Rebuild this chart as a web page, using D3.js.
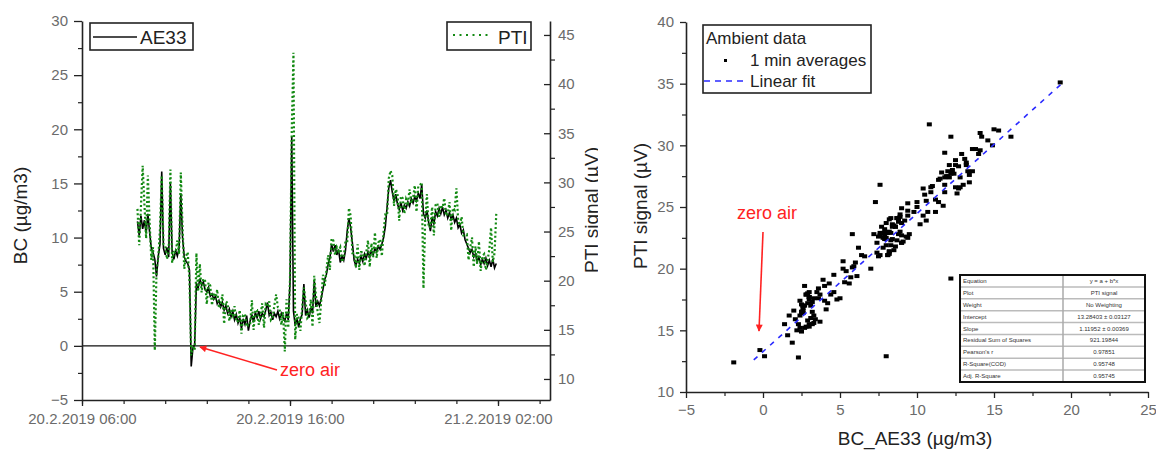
<!DOCTYPE html>
<html>
<head>
<meta charset="utf-8">
<title>AE33 vs PTI</title>
<script src="https://cdn.jsdelivr.net/npm/d3@7"></script>
<style>
  body { margin: 0; background: #fff; }
  text { font-family: "Liberation Sans", Arial, sans-serif; }
</style>
</head>
<body>
<svg width="1156" height="450" id="mainsvg"></svg>
<script>
// 5 minute samples, first one at 20.2.2019 08:40
const startTime = '2019-02-20 08:40';
const stepMinutes = 5;

// AE33 black carbon (ug/m3)
const bc = [
  11.5,10.2,12.0,10.8,11.6,10.4,12.2,10.5,9.0,8.6,
  8.0,6.4,8.3,9.4,16.1,9.0,8.4,9.1,8.2,15.0,
  8.6,8.0,8.8,8.3,9.0,14.1,10.0,8.2,7.8,7.6,
  7.0,-1.9,-0.2,0.1,5.8,5.3,6.2,5.6,5.9,5.2,
  5.0,5.4,4.6,4.8,4.3,4.6,3.9,4.2,3.6,4.0,
  3.3,3.7,3.0,3.4,2.7,3.2,2.4,2.9,2.1,2.6,
  1.6,2.5,2.0,2.8,1.4,2.3,2.9,2.2,3.1,2.6,
  3.2,2.5,3.0,2.7,3.3,4.0,2.8,3.1,2.4,3.0,
  2.7,3.2,2.5,3.0,2.6,2.3,3.0,2.4,5.8,19.3,
  3.2,1.9,2.6,1.7,2.5,2.9,5.7,2.8,3.3,2.6,
  3.5,3.0,6.0,3.6,4.1,3.7,4.4,5.2,6.1,6.6,
  7.5,8.1,9.4,8.7,9.3,8.4,8.9,7.7,8.3,7.9,
  8.8,10.6,11.8,10.9,9.5,7.9,7.4,8.0,7.6,8.3,
  7.8,8.5,8.1,8.7,8.2,8.8,8.4,9.0,8.7,9.2,
  8.9,9.4,10.0,11.0,12.8,14.6,15.3,14.2,13.4,14.0,
  13.1,12.6,13.2,12.5,13.0,12.7,13.3,12.9,13.6,13.2,
  13.8,13.4,14.1,13.6,14.9,12.2,11.8,12.5,11.4,10.6,
  11.9,11.2,12.4,12.0,12.7,12.2,12.8,12.1,12.5,11.8,
  12.3,11.7,12.1,11.4,11.8,10.9,11.2,10.4,10.7,9.8,
  9.4,9.0,8.6,8.9,8.2,8.5,7.8,8.2,7.5,8.0,
  7.6,8.1,7.4,7.9,7.3,8.0,7.2,7.6
];

// PTI signal (uV), same time stamps
const pti = [
  27.3,23.6,27.5,31.7,27.8,24.3,30.7,26.0,22.1,23.4,
  12.9,21.1,22.3,25.3,30.7,23.7,23.6,22.2,23.0,31.3,
  21.8,22.9,22.8,24.1,22.7,31.0,25.4,21.2,22.5,22.9,
  20.0,12.4,13.4,12.9,22.8,18.9,21.7,18.8,20.2,20.0,
  17.6,19.8,19.5,17.5,18.8,18.1,19.1,17.2,17.6,18.6,
  15.6,17.9,17.7,15.9,17.0,16.5,17.4,15.8,15.9,17.0,
  14.6,16.5,16.6,15.3,15.5,15.5,18.0,15.0,17.0,17.0,
  15.5,16.5,17.7,15.2,17.6,17.4,17.9,16.0,16.2,17.5,
  18.6,17.3,17.1,15.5,16.8,12.8,18.1,15.2,20.1,35.1,
  43.2,14.0,16.6,16.2,14.9,17.2,19.3,17.9,16.2,16.4,
  18.1,15.3,20.5,18.4,16.7,15.7,17.9,20.6,19.4,21.0,
  22.6,21.1,24.3,24.1,22.6,23.4,23.0,23.4,21.9,22.4,
  24.0,23.9,27.4,26.6,22.8,22.8,21.3,23.7,21.1,22.9,
  22.9,21.5,22.9,24.1,21.4,23.8,22.4,24.9,22.3,23.9,
  24.2,22.5,25.0,26.7,26.6,30.4,31.2,30.7,27.6,29.3,
  28.9,26.1,28.6,28.4,26.8,28.3,27.9,29.3,27.9,28.4,
  29.7,27.0,29.6,29.7,30.0,19.2,26.2,28.8,25.4,25.5,
  27.5,24.6,27.7,27.9,26.5,27.7,27.4,28.4,26.6,26.8,
  28.0,25.1,27.4,27.2,29.4,26.2,25.6,26.5,24.6,24.6,
  24.7,22.1,23.4,24.4,21.4,23.5,21.7,24.0,21.0,22.5,
  22.7,21.1,22.1,23.2,25.4,21.9,22.8,26.8
];

const timeTicks = ['2019-02-20 06:00', '2019-02-20 16:00', '2019-02-21 02:00'];
const bcTicks = [-5, 0, 5, 10, 15, 20, 25, 30];
const ptiTicks = [10, 15, 20, 25, 30, 35, 40, 45];
const scatterXTicks = [-5, 0, 5, 10, 15, 20, 25];
const scatterYTicks = [10, 15, 20, 25, 30, 35, 40];

// linear fit end points
const fitLine = [{x: -0.6, y: 12.6}, {x: 19.4, y: 35.0}];
const fitLabels = ['Equation', 'Plot', 'Weight', 'Intercept', 'Slope',
  'Residual Sum of Squares', "Pearson's r", 'R-Square(COD)', 'Adj. R-Square'];
const fitValues = ['y = a + b*x', 'PTI signal', 'No Weighting', '13.28403 \u00b1 0.03127',
  '1.11952 \u00b1 0.00369', '921.19844', '0.97851', '0.95748', '0.95745'];

const svg = d3.select('#mainsvg');
const parse = d3.timeParse('%Y-%m-%d %H:%M');
const t0 = parse(startTime);
const times = bc.map((d, i) => d3.timeMinute.offset(t0, i * stepMinutes));

const tickGrey = '#6b6b6b';
const axisCol = '#222';

function styleAxis(g, fs) {
  g.selectAll('.domain').attr('stroke', axisCol).attr('stroke-width', 1.6);
  g.selectAll('.tick line').attr('stroke', axisCol).attr('stroke-width', 1.3);
  g.selectAll('.tick text').attr('fill', tickGrey).attr('font-size', fs || 15)
    .attr('font-family', '"Liberation Sans", Arial, sans-serif');
}
function minor(g) {
  g.select('.domain').remove();
  g.selectAll('.tick line').attr('stroke', axisCol).attr('stroke-width', 1.2);
}

const defs = svg.append('defs');
defs.append('clipPath').attr('id', 'leftPanel')
  .append('rect').attr('x', 0).attr('y', 0).attr('width', 598).attr('height', 450);
defs.append('marker').attr('id', 'redHead')
  .attr('viewBox', '0 0 10 10').attr('refX', 9).attr('refY', 5)
  .attr('markerWidth', 10).attr('markerHeight', 7).attr('markerUnits', 'userSpaceOnUse')
  .attr('orient', 'auto')
  .append('path').attr('d', 'M0,0 L10,5 L0,10 Z').attr('fill', '#f22');

// ---------------- left panel: time series ----------------
const L = {left: 82, right: 550, top: 21, bottom: 400};
const xT = d3.scaleTime()
  .domain([parse('2019-02-20 06:00'), parse('2019-02-21 04:30')])
  .range([L.left, L.right]);
const yBC = d3.scaleLinear().domain([-5, 30]).range([L.bottom, L.top]);
const yPTI = d3.scaleLinear().domain([7.86, 46.42]).range([L.bottom, L.top]);

const left = svg.append('g').attr('clip-path', 'url(#leftPanel)');

defs.append('clipPath').attr('id', 'leftPlot')
  .append('rect').attr('x', L.left).attr('y', L.top)
  .attr('width', L.right - L.left).attr('height', L.bottom - L.top);

// zero line
left.append('line')
  .attr('x1', L.left).attr('x2', L.right)
  .attr('y1', yBC(0)).attr('y2', yBC(0))
  .attr('stroke', '#111').attr('stroke-width', 1.3);

const series = left.append('g').attr('clip-path', 'url(#leftPlot)');
series.append('path')
  .datum(bc)
  .attr('d', d3.line().x((d, i) => xT(times[i])).y(d => yBC(d)))
  .attr('fill', 'none').attr('stroke', '#000').attr('stroke-width', 1.6);
series.append('path')
  .datum(pti)
  .attr('d', d3.line().x((d, i) => xT(times[i])).y(d => yPTI(d)))
  .attr('fill', 'none').attr('stroke', '#138a13').attr('stroke-width', 2.2)
  .attr('stroke-dasharray', '2,2.4');

// axes
const xTicks = timeTicks.map(parse);
const xMinor = d3.timeHour.every(2).range(parse('2019-02-20 06:00'), parse('2019-02-21 04:31'));
left.append('g').attr('transform', `translate(0,${L.bottom})`)
  .call(d3.axisBottom(xT).tickValues(xMinor).tickSize(4).tickFormat(''))
  .call(minor);
left.append('g').attr('transform', `translate(0,${L.bottom})`)
  .call(d3.axisBottom(xT).tickValues(xTicks).tickSize(6).tickSizeOuter(0).tickPadding(7)
    .tickFormat(d3.timeFormat('%-d.%-m.%Y %H:%M')))
  .call(styleAxis);

left.append('g').attr('transform', `translate(${L.left},0)`)
  .call(d3.axisLeft(yBC).tickValues(d3.range(-2.5, 30, 5)).tickSize(4).tickFormat(''))
  .call(minor);
left.append('g').attr('transform', `translate(${L.left},0)`)
  .call(d3.axisLeft(yBC).tickValues(bcTicks).tickSize(8).tickSizeOuter(0).tickPadding(6))
  .call(styleAxis);

left.append('g').attr('transform', `translate(${L.right},0)`)
  .call(d3.axisRight(yPTI).tickValues(d3.range(12.5, 46, 5)).tickSize(5).tickFormat(''))
  .call(minor);
left.append('g').attr('transform', `translate(${L.right},0)`)
  .call(d3.axisRight(yPTI).tickValues(ptiTicks).tickSize(-6).tickSizeOuter(0).tickPadding(8))
  .call(styleAxis);

// axis titles
left.append('text').text('BC (\u00b5g/m3)')
  .attr('transform', `translate(27,${(L.top + L.bottom) / 2 + 5}) rotate(-90)`)
  .attr('text-anchor', 'middle').attr('font-size', 19).attr('fill', '#222');
left.append('text').text('PTI signal (\u00b5V)')
  .attr('transform', `translate(598,210) rotate(-90)`)
  .attr('text-anchor', 'middle').attr('font-size', 19).attr('fill', '#222');

// legends
const lg1 = left.append('g');
lg1.append('rect').attr('x', 90).attr('y', 23).attr('width', 103).attr('height', 27)
  .attr('fill', '#fff').attr('stroke', '#222').attr('stroke-width', 1.6);
lg1.append('line').attr('x1', 93).attr('x2', 137).attr('y1', 37).attr('y2', 37)
  .attr('stroke', '#111').attr('stroke-width', 1.5);
lg1.append('text').text('AE33').attr('x', 140).attr('y', 44)
  .attr('font-size', 19).attr('fill', '#222');

const lg2 = left.append('g');
lg2.append('rect').attr('x', 447).attr('y', 22).attr('width', 84).attr('height', 28)
  .attr('fill', '#fff').attr('stroke', '#222').attr('stroke-width', 1.6);
lg2.append('line').attr('x1', 453).attr('x2', 490).attr('y1', 35).attr('y2', 35)
  .attr('stroke', '#138a13').attr('stroke-width', 2).attr('stroke-dasharray', '2,4.5');
lg2.append('text').text('PTI').attr('x', 498).attr('y', 44)
  .attr('font-size', 19).attr('fill', '#222');

// zero air annotation
left.append('line').attr('x1', 277).attr('y1', 370).attr('x2', 200).attr('y2', 347)
  .attr('stroke', '#f22').attr('stroke-width', 1.5).attr('marker-end', 'url(#redHead)');
left.append('text').text('zero air').attr('x', 280).attr('y', 376)
  .attr('font-size', 18).attr('fill', '#f22');

// ---------------- right panel: scatter ----------------
const R = {left: 686, right: 1148, top: 22, bottom: 392};
const xS = d3.scaleLinear().domain([-5, 25]).range([R.left, R.right]);
const yS = d3.scaleLinear().domain([10, 40]).range([R.bottom, R.top]);

const right = svg.append('g');

const pairs = bc.map((d, i) => ({x: d, y: pti[i]}))
  .filter(p => p.y <= 40 && p.y >= 10);
right.append('g').selectAll('rect')
  .data(pairs)
  .join('rect')
  .attr('x', d => xS(d.x) - 2.5).attr('y', d => yS(d.y) - 2)
  .attr('width', 5).attr('height', 4).attr('fill', '#000');

right.append('path')
  .datum(fitLine)
  .attr('d', d3.line().x(d => xS(d.x)).y(d => yS(d.y)))
  .attr('fill', 'none').attr('stroke', '#2a2aff').attr('stroke-width', 1.6)
  .attr('stroke-dasharray', '5,6');

right.append('g').attr('transform', `translate(0,${R.bottom})`)
  .call(d3.axisBottom(xS).tickValues(d3.range(-2.5, 25, 5)).tickSize(4).tickFormat(''))
  .call(minor);
right.append('g').attr('transform', `translate(0,${R.bottom})`)
  .call(d3.axisBottom(xS).tickValues(scatterXTicks).tickSize(6).tickSizeOuter(0).tickPadding(6))
  .call(styleAxis);
right.append('g').attr('transform', `translate(${R.left},0)`)
  .call(d3.axisLeft(yS).tickValues(d3.range(12.5, 40, 5)).tickSize(4).tickFormat(''))
  .call(minor);
right.append('g').attr('transform', `translate(${R.left},0)`)
  .call(d3.axisLeft(yS).tickValues(scatterYTicks).tickSize(6).tickSizeOuter(0).tickPadding(6))
  .call(styleAxis);

right.append('text').text('PTI signal (\u00b5V)')
  .attr('transform', `translate(647,206) rotate(-90)`)
  .attr('text-anchor', 'middle').attr('font-size', 19).attr('fill', '#222');
right.append('text').text('BC_AE33 (\u00b5g/m3)')
  .attr('x', 915).attr('y', 445)
  .attr('text-anchor', 'middle').attr('font-size', 19).attr('fill', '#222');

// legend
const lg3 = right.append('g');
lg3.append('rect').attr('x', 703).attr('y', 25).attr('width', 168).attr('height', 68)
  .attr('fill', '#fff').attr('stroke', '#222').attr('stroke-width', 1.6);
lg3.append('text').text('Ambient data').attr('x', 706).attr('y', 44)
  .attr('font-size', 17).attr('fill', '#222');
lg3.append('rect').attr('x', 724).attr('y', 59).attr('width', 3).attr('height', 3).attr('fill', '#000');
lg3.append('text').text('1 min averages').attr('x', 750).attr('y', 66)
  .attr('font-size', 17).attr('fill', '#222');
lg3.append('line').attr('x1', 704).attr('x2', 746).attr('y1', 81).attr('y2', 81)
  .attr('stroke', '#2a2aff').attr('stroke-width', 1.6).attr('stroke-dasharray', '6,5');
lg3.append('text').text('Linear fit').attr('x', 750).attr('y', 87)
  .attr('font-size', 17).attr('fill', '#222');

// zero air annotation
right.append('text').text('zero air').attr('x', 737).attr('y', 219)
  .attr('font-size', 18).attr('fill', '#f22');
right.append('line').attr('x1', 763).attr('y1', 232).attr('x2', 759).attr('y2', 331)
  .attr('stroke', '#f22').attr('stroke-width', 1.6).attr('marker-end', 'url(#redHead)');

// fit results table
const T = {x: 960, y: 275, w: 185, h: 107, split: 1063};
const rowH = T.h / fitLabels.length;
const tbl = right.append('g');
tbl.append('rect').attr('x', T.x).attr('y', T.y).attr('width', T.w).attr('height', T.h)
  .attr('fill', '#fff');
tbl.selectAll('line.row')
  .data(d3.range(1, fitLabels.length))
  .join('line').attr('class', 'row')
  .attr('x1', T.x).attr('x2', T.x + T.w)
  .attr('y1', d => T.y + d * rowH).attr('y2', d => T.y + d * rowH)
  .attr('stroke', '#bbb').attr('stroke-width', 1.5);
tbl.append('line').attr('x1', T.split).attr('x2', T.split)
  .attr('y1', T.y).attr('y2', T.y + T.h).attr('stroke', '#aaa').attr('stroke-width', 1.5);
tbl.selectAll('text.lab')
  .data(fitLabels)
  .join('text').attr('class', 'lab')
  .attr('x', T.x + 3).attr('y', (d, i) => T.y + i * rowH + rowH / 2 + 2)
  .attr('font-size', 6).attr('fill', '#333').text(d => d);
tbl.selectAll('text.val')
  .data(fitValues)
  .join('text').attr('class', 'val')
  .attr('x', (T.split + T.x + T.w) / 2).attr('y', (d, i) => T.y + i * rowH + rowH / 2 + 2)
  .attr('text-anchor', 'middle')
  .attr('font-size', 6).attr('fill', '#333').text(d => d);
tbl.append('rect').attr('x', T.x).attr('y', T.y).attr('width', T.w).attr('height', T.h)
  .attr('fill', 'none').attr('stroke', '#111').attr('stroke-width', 2);
</script>
</body>
</html>
